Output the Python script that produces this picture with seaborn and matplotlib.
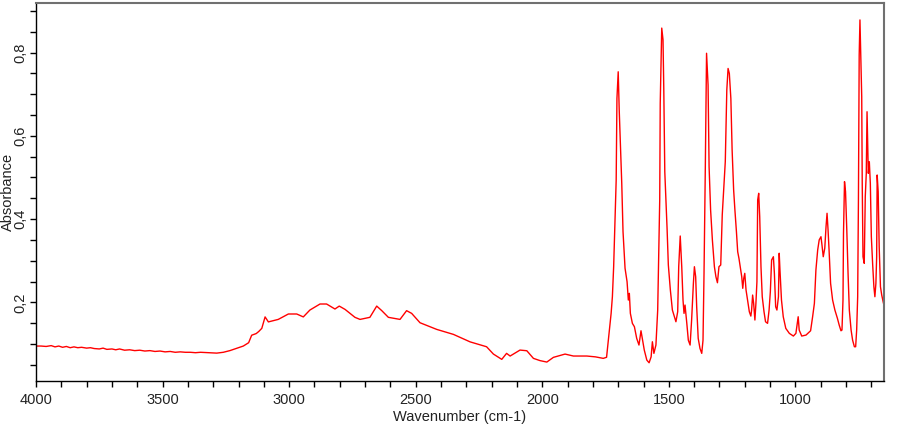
import numpy as np
import pandas as pd
import matplotlib
matplotlib.use("Agg")
import matplotlib.pyplot as plt
from matplotlib.ticker import MultipleLocator, FuncFormatter
import seaborn as sns

wavenumber = [
    4000, 3980, 3960, 3940, 3925, 3910, 3895, 3880, 3865, 3850, 3835, 3820, 3800, 3785,
    3770, 3750, 3735, 3720, 3700, 3685, 3670, 3650, 3630, 3610, 3590, 3570, 3550, 3530,
    3510, 3490, 3470, 3450, 3430, 3410, 3390, 3370, 3350, 3320, 3286, 3260, 3234, 3210,
    3181, 3160, 3148, 3130, 3120, 3108, 3095, 3082, 3043, 3003, 2970, 2944, 2918, 2878,
    2852, 2819, 2802, 2779, 2740, 2720, 2681, 2654, 2634, 2608, 2562, 2536, 2516, 2483,
    2417, 2351, 2285, 2220, 2193, 2160, 2141, 2127, 2088, 2061, 2035, 2009, 1982, 1956,
    1910, 1877, 1824, 1790, 1759, 1746,
    1739, 1728, 1723, 1718, 1713, 1708, 1705, 1700, 1696, 1692, 1686, 1681, 1673, 1665,
    1660, 1656, 1652, 1644, 1636, 1627, 1618, 1610, 1605, 1597, 1587, 1578, 1570, 1565,
    1559, 1551, 1544, 1540, 1536, 1534, 1528, 1523, 1520, 1516, 1511, 1507, 1502, 1494,
    1486, 1478, 1472, 1465, 1461, 1455, 1449, 1444, 1440, 1436, 1429, 1423, 1416, 1410,
    1403, 1399, 1394, 1390, 1384, 1377, 1370, 1365, 1361, 1356, 1351, 1345, 1341, 1335,
    1328, 1320, 1314, 1308, 1302, 1295, 1289, 1282, 1277, 1271, 1266, 1261, 1255, 1250,
    1244, 1239, 1233, 1228, 1223, 1218, 1212, 1208, 1204, 1200, 1195, 1188, 1182, 1176,
    1173, 1169, 1165, 1160, 1156, 1152, 1149, 1145, 1141, 1136, 1131, 1124, 1118, 1110,
    1104, 1099, 1094, 1087, 1083, 1078, 1073, 1067, 1064, 1061, 1055, 1048, 1038, 1024,
    1008, 998, 992, 989, 985, 975, 958, 940, 932, 925, 919, 912, 906, 899, 895, 890, 884,
    879, 875, 871, 867, 861, 853, 844, 834, 827, 820, 816, 812, 810, 806, 802, 797, 792,
    787, 780, 774, 767, 762, 758, 754, 751, 748, 745, 742, 738, 736, 733, 728, 724, 720,
    717, 715, 712, 708, 704, 700, 695, 690, 686, 682, 679, 677, 673, 669, 664, 659, 652,
    650,
]

absorbance = [
    0.095, 0.095, 0.094, 0.096, 0.093, 0.095, 0.092, 0.094, 0.091, 0.093, 0.091, 0.092, 0.090, 0.091,
    0.089, 0.088, 0.090, 0.087, 0.088, 0.086, 0.088, 0.085, 0.086, 0.084, 0.085, 0.083, 0.084, 0.082,
    0.083, 0.081, 0.082, 0.080, 0.081, 0.080, 0.080, 0.079, 0.080, 0.079, 0.078, 0.080, 0.084, 0.089,
    0.095, 0.103, 0.121, 0.125, 0.130, 0.1375, 0.165, 0.153, 0.159, 0.172, 0.172, 0.165, 0.1815, 0.196,
    0.196, 0.184, 0.191, 0.183, 0.164, 0.159, 0.164, 0.191, 0.180, 0.164, 0.159, 0.180, 0.1735, 0.151,
    0.135, 0.123, 0.105, 0.0933, 0.0757, 0.063, 0.0774, 0.071, 0.0853, 0.0837, 0.0654, 0.060, 0.0565, 0.0678,
    0.0757, 0.071, 0.071, 0.069, 0.0654, 0.068,
    0.109, 0.1735, 0.2135, 0.2856, 0.394, 0.494, 0.690, 0.754, 0.662, 0.594, 0.486, 0.370, 0.282, 0.2495,
    0.2055, 0.2216, 0.1735, 0.1495, 0.1414, 0.1135, 0.0974, 0.1317, 0.1135, 0.0853, 0.0613, 0.0548, 0.069, 0.1053,
    0.0774, 0.0974, 0.1815, 0.318, 0.446, 0.678, 0.859, 0.831, 0.714, 0.514, 0.438, 0.378, 0.29, 0.2296,
    0.1815, 0.1654, 0.1534, 0.1774, 0.2856, 0.3594, 0.2856, 0.2055, 0.1735, 0.1935, 0.1495, 0.109, 0.0974, 0.1575,
    0.2457, 0.2856, 0.2615, 0.1894, 0.1135, 0.0894, 0.0774, 0.109, 0.2697, 0.518, 0.7985, 0.7224, 0.526, 0.4219,
    0.35, 0.2856, 0.2615, 0.2471, 0.2856, 0.2897, 0.41, 0.486, 0.538, 0.710, 0.762, 0.750, 0.690, 0.566,
    0.470, 0.4219, 0.37, 0.3216, 0.3057, 0.2856, 0.2615, 0.2337, 0.2577, 0.2697, 0.2296, 0.2014, 0.1774, 0.167,
    0.1815, 0.2175, 0.1976, 0.1575, 0.1976, 0.2495, 0.446, 0.462, 0.4058, 0.2856, 0.2135, 0.1774, 0.1534, 0.1495,
    0.1815, 0.2255, 0.3017, 0.3096, 0.2697, 0.1894, 0.1815, 0.2135, 0.318, 0.2776, 0.2055, 0.1654, 0.1375, 0.1255,
    0.119, 0.1255, 0.1534, 0.1654, 0.1334, 0.119, 0.1214, 0.1317, 0.1654, 0.1976, 0.2776, 0.3257, 0.35, 0.3577, 0.3377, 0.3096, 0.33,
    0.3817, 0.414, 0.374, 0.3257, 0.2457, 0.2055, 0.1815, 0.1615, 0.1454, 0.1317, 0.1334, 0.2055, 0.366, 0.49, 0.466, 0.374, 0.2697,
    0.1815, 0.1334, 0.109, 0.0933, 0.0933, 0.1334, 0.2135, 0.446, 0.7945, 0.8786, 0.7985, 0.694, 0.486, 0.3096, 0.2937, 0.4538, 0.51,
    0.658, 0.598, 0.51, 0.538, 0.486, 0.3577, 0.2937, 0.2375, 0.2135, 0.2457, 0.3096, 0.506, 0.466, 0.3336, 0.2375, 0.2175, 0.1976,
    0.195,
]

x_label = "Wavenumber (cm-1)"
y_label = "Absorbance"

df = pd.DataFrame({"wn": wavenumber, "A": absorbance})

sns.set_style("ticks")
plt.rcParams["font.family"] = ["Liberation Sans", "DejaVu Sans"]
plt.rcParams["font.size"] = 10.5

fig = plt.figure(figsize=(9, 4.25), dpi=100)
ax = fig.add_axes([36 / 900, 1 - 381 / 425, 848 / 900, (381 - 2.7) / 425])

sns.lineplot(data=df, x="wn", y="A", ax=ax, color="#ff0000", linewidth=1.0,
             estimator=None, sort=False)

ax.set_xlim(4000, 650)
ax.set_ylim(0.011, 0.92)

ax.xaxis.set_major_locator(MultipleLocator(500))
ax.xaxis.set_minor_locator(MultipleLocator(100))
ax.yaxis.set_major_locator(MultipleLocator(0.2))
ax.yaxis.set_minor_locator(MultipleLocator(0.05))
ax.yaxis.set_major_formatter(FuncFormatter(lambda v, p: f"{v:.1f}".replace(".", ",")))
ax.xaxis.set_major_formatter(FuncFormatter(lambda v, p: f"{v:.0f}"))

ax.tick_params(axis="both", which="both", direction="out", length=4.5, width=1.0,
               color="black", labelcolor="#222222", labelsize=10.5)
ax.tick_params(axis="y", which="major", pad=2, labelrotation=90)
ax.tick_params(axis="x", which="major", pad=4)
for lab in ax.get_yticklabels():
    lab.set_va("center")

ax.set_xlabel(x_label, fontsize=10.5, color="#222222", labelpad=2)
ax.set_ylabel(y_label, fontsize=10.5, color="#222222")
ax.yaxis.set_label_coords(-0.0245, 0.5)

for side in ["left", "bottom"]:
    ax.spines[side].set_color("black")
    ax.spines[side].set_linewidth(1.0)
for side in ["top", "right"]:
    ax.spines[side].set_visible(True)
    ax.spines[side].set_color("#707070")
    ax.spines[side].set_linewidth(1.5)

fig.savefig("out.png", dpi=100)
